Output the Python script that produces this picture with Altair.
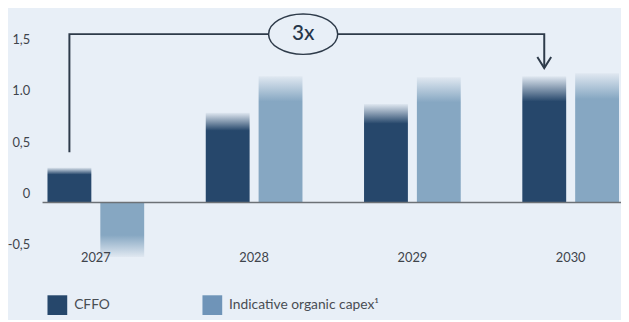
import altair as alt
import pandas as pd

# ---- data ----
years = ["2027", "2028", "2029", "2030"]
series_names = ["CFFO", "Indicative organic capex¹"]
cffo = [0.34, 0.875, 0.96, 1.23]
capex = [-0.53, 1.23, 1.22, 1.26]

y_ticks = [-0.5, 0, 0.5, 1.0, 1.5]
y_tick_labels = ["-0,5", "0", "0,5", "1,0", "1,5"]

bracket_years = ["2027", "2027", "2030", "2030"]
bracket_values = [0.49, 1.64, 1.64, 1.31]
multiple_label = ["3x"]
multiple_level = [1.64]

# ---- styling ----
dark = "#26476b"
light = "#86a7c2"
legend_light = "#6f94b8"
bg = "#e8eff7"
fade = "#e0e8f1"
ink = "#2e3b4a"
label_color = "#3e444b"
FONT = "Lato"

rows = []
for i, yr in enumerate(years):
    rows.append({"year": yr, "series": series_names[0], "value": cffo[i]})
    rows.append({"year": yr, "series": series_names[1], "value": capex[i]})
df = pd.DataFrame(rows)

bracket_df = pd.DataFrame({
    "year": bracket_years,
    "series": [series_names[0]] * len(bracket_years),
    "value": bracket_values,
    "idx": list(range(len(bracket_years))),
})
multiple_df = pd.DataFrame({"label": multiple_label, "value": multiple_level})
zero_df = pd.DataFrame({"value": [0]})


def grad(color, top_fade=True):
    if top_fade:
        stops = [
            alt.GradientStop(color=fade, offset=0),
            alt.GradientStop(color=color, offset=0.2),
            alt.GradientStop(color=color, offset=1),
        ]
    else:
        stops = [
            alt.GradientStop(color=color, offset=0),
            alt.GradientStop(color=color, offset=0.6),
            alt.GradientStop(color=fade, offset=1),
        ]
    return alt.LinearGradient(gradient="linear", stops=stops, x1=0, x2=0, y1=0, y2=1)


label_map = "{" + ",".join(f"'{v}':'{l}'" for v, l in zip(y_ticks, y_tick_labels)) + "}"

x_enc = alt.X(
    "year:N",
    title=None,
    scale=alt.Scale(domain=years, paddingInner=0.389, paddingOuter=0.0218, align=0.714),
    axis=alt.Axis(domain=False, ticks=False, labelAngle=0, labelPadding=-2,
                  labelFontSize=13, labelColor=label_color, labelFont=FONT, zindex=1),
)
xo_enc = alt.XOffset(
    "series:N",
    scale=alt.Scale(domain=series_names, paddingInner=0.17, paddingOuter=0),
)
y_enc = alt.Y(
    "value:Q",
    title=None,
    scale=alt.Scale(domain=[-0.5, 1.75], nice=False, zero=False),
    axis=alt.Axis(values=y_ticks, domain=False, ticks=False, grid=False,
                  labelPadding=13, labelOffset=-9, labelFontSize=13,
                  labelColor=label_color, labelFont=FONT,
                  labelExpr=f"{label_map}[toString(datum.value)] || datum.label"),
)

base = alt.Chart(df)
layers = []
for name, col in [(series_names[0], dark), (series_names[1], light)]:
    layers.append(
        base.transform_filter((alt.datum.series == name) & (alt.datum.value >= 0))
        .mark_bar(color=grad(col, True))
        .encode(x=x_enc, xOffset=xo_enc, y=y_enc)
    )
    layers.append(
        base.transform_filter((alt.datum.series == name) & (alt.datum.value < 0))
        .mark_bar(color=grad(col, False))
        .encode(x=x_enc, xOffset=xo_enc, y=y_enc)
    )

legend_layer = base.mark_square(opacity=0, size=10).encode(
    x=x_enc, xOffset=xo_enc, y=y_enc,
    color=alt.Color(
        "series:N",
        scale=alt.Scale(domain=series_names, range=[dark, legend_light]),
        legend=alt.Legend(
            title=None, orient="none", legendX=5, legendY=276,
            direction="horizontal", symbolType="square", symbolSize=400,
            symbolOpacity=1, symbolStrokeWidth=0, labelFontSize=14,
            labelColor="#484d53", labelFont=FONT, labelOffset=7,
            columnPadding=93, padding=0,
        ),
    ),
)

zero_rule = alt.Chart(zero_df).mark_rule(color="#6c7176", strokeWidth=1.5).encode(y=y_enc)

bracket = alt.Chart(bracket_df).mark_line(color=ink, strokeWidth=2, strokeJoin="miter").encode(
    x=x_enc, xOffset=xo_enc, y=y_enc, order="idx:Q"
)
arrow = (
    alt.Chart(bracket_df)
    .transform_filter(alt.datum.idx == len(bracket_years) - 1)
    .mark_point(shape="M -1 -1.6 L 0 0 L 1 -1.6", size=196, filled=False,
                stroke=ink, strokeWidth=2, opacity=1)
    .encode(x=x_enc, xOffset=xo_enc, y=y_enc)
)
ellipse = alt.Chart(multiple_df).mark_point(
    shape="M -1 0 A 1 0.586 0 1 1 1 0 A 1 0.586 0 1 1 -1 0 Z",
    size=4900, filled=True, fill=bg, stroke=ink, strokeWidth=1.5, opacity=1,
).encode(x=alt.value(264), y=y_enc)
ellipse_text = alt.Chart(multiple_df).mark_text(
    fontSize=21, color="#26364a", font=FONT, align="center", baseline="middle", fontWeight=500
).encode(x=alt.value(264), y=y_enc, text="label:N")

chart = (
    alt.layer(*layers, legend_layer, zero_rule, bracket, arrow, ellipse, ellipse_text)
    .properties(
        width=586, height=234,
        autosize=alt.AutoSizeParams(type="none"),
        padding={"left": 35, "top": 13, "right": 0, "bottom": 65},
        background=bg,
    )
    .configure_view(stroke=None)
)

chart.save("out.html", embed_options={"renderer": "svg", "actions": False})
